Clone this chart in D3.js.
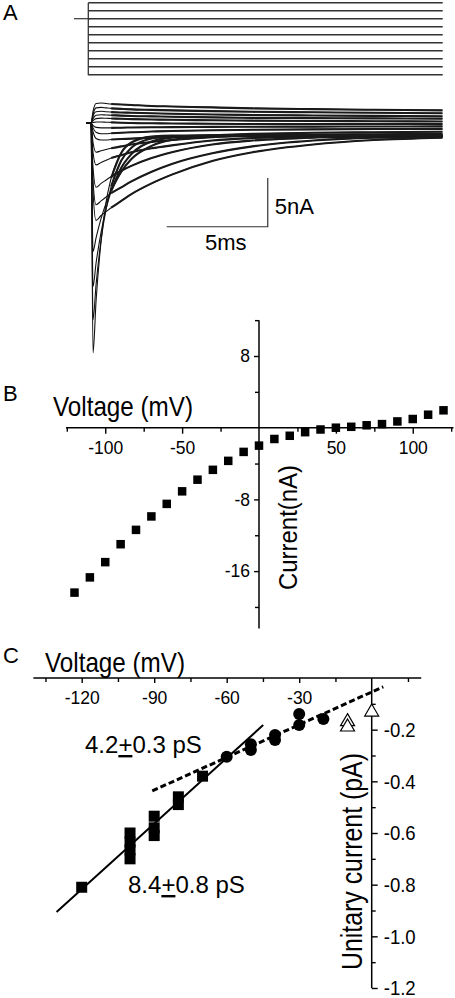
<!DOCTYPE html>
<html><head><meta charset="utf-8">
<script src="https://cdn.jsdelivr.net/npm/d3@7"></script>
<style>
html,body{margin:0;padding:0;background:#fff;}
svg{display:block;font-family:"Liberation Sans",Arial,Helvetica,sans-serif;}
</style></head><body>
<svg id="fig" width="455" height="998"></svg>
<script>
// ---------- Panel A: voltage protocol ----------
const stepVoltages = [60, 40, 20, 0, -20, -40, -60, -80, -100, -120];
const holdingVoltage = 20;

// ---------- Panel A: current traces (nA) sampled at traceTimes (ms) ----------
const traceTimes = [-0.25, 0, 0.1, 0.25, 0.5, 0.75, 1, 1.5, 2, 3, 4, 6, 8, 11, 14, 17.4];
const traceO1 = [0, 0, 1.2, 2.0, 2.05, 2.0, 1.95, 1.9, 1.85, 1.75, 1.7, 1.6, 1.5, 1.42, 1.36, 1.3];
const traceO2 = [0, 0, 0.9, 1.55, 1.6, 1.55, 1.5, 1.45, 1.4, 1.35, 1.3, 1.22, 1.15, 1.1, 1.05, 1.0];
const traceO3 = [0, 0, 0.7, 1.15, 1.2, 1.15, 1.12, 1.08, 1.05, 1.0, 0.95, 0.88, 0.82, 0.77, 0.73, 0.7];
const traceO4 = [0, 0, 0.45, 0.8, 0.85, 0.82, 0.8, 0.76, 0.72, 0.68, 0.64, 0.58, 0.53, 0.5, 0.47, 0.45];
const traceO5 = [0, 0, 0.25, 0.45, 0.5, 0.48, 0.46, 0.43, 0.4, 0.36, 0.33, 0.28, 0.24, 0.2, 0.18, 0.15];
const traceO6 = [0, 0, 0.05, 0.1, 0.1, 0.08, 0.06, 0.03, 0, -0.03, -0.05, -0.08, -0.1, -0.1, -0.1, -0.1];
const traceN1 = [0, 0, -0.25, -0.45, -0.5, -0.5, -0.5, -0.48, -0.46, -0.44, -0.42, -0.4, -0.38, -0.37, -0.36, -0.35];
const traceN2 = [0, 0, -0.5, -0.95, -1.1, -1.1, -1.05, -1.0, -0.95, -0.88, -0.82, -0.75, -0.7, -0.65, -0.62, -0.6];
const traceS1 = [0, 0, -0.9, -1.6, -1.75, -1.75, -1.7, -1.65, -1.6, -1.5, -1.4, -1.25, -1.12, -1.0, -0.95, -0.9];
const traceM1 = [0, 0, -2.0, -3.0, -2.85, -2.72, -2.6, -2.4, -2.2, -1.95, -1.75, -1.45, -1.3, -1.2, -1.15, -1.1];
const traceM2 = [0, 0, -3.0, -4.3, -4.05, -3.82, -3.6, -3.3, -3.0, -2.6, -2.3, -1.8, -1.55, -1.4, -1.35, -1.3];
const traceM3 = [0, 0, -4.6, -6.6, -6.2, -5.85, -5.5, -4.9, -4.4, -3.6, -3.0, -2.2, -1.8, -1.5, -1.4, -1.35];
const traceM4 = [0, 0, -5.9, -8.4, -8.0, -7.6, -7.2, -6.6, -6.0, -5.0, -4.2, -3.1, -2.4, -1.8, -1.5, -1.4];
const traceM5 = [0, 0, -7.0, -10.0, -9.5, -9.1, -8.7, -8.0, -7.3, -6.2, -5.3, -3.9, -3.0, -2.2, -1.75, -1.5];
const traceD4 = [0, 0, -13.2, -11.8, -9.8, -8.2, -6.9, -5.0, -3.7, -2.35, -1.75, -1.4, -1.32, -1.3, -1.3, -1.3];
const traceD3 = [0, 0, -16.8, -14.4, -11.2, -8.8, -7.0, -4.6, -3.2, -1.9, -1.5, -1.32, -1.3, -1.3, -1.28, -1.28];
const traceD2 = [0, 0, -20.2, -16.6, -12.0, -8.8, -6.5, -3.85, -2.55, -1.6, -1.38, -1.3, -1.3, -1.28, -1.26, -1.25];
const traceD1 = [0, 0, -23.6, -18.3, -12.1, -8.1, -5.65, -3.05, -2.0, -1.4, -1.3, -1.3, -1.28, -1.26, -1.25, -1.25];
const traces = [traceO1, traceO2, traceO3, traceO4, traceO5, traceO6, traceN1, traceN2, traceS1,
                traceM1, traceM2, traceM3, traceM4, traceM5, traceD4, traceD3, traceD2, traceD1];
const scaleBarTimeMs = 5;
const scaleBarCurrentNA = 5;

// ---------- Panel B: I-V relation ----------
const ivVoltage = [-120, -110, -100, -90, -80, -70, -60, -50, -40, -30, -20, -10, 0,
                   10, 20, 30, 40, 50, 60, 70, 80, 90, 100, 110, 120];
const ivCurrent = [-18.4, -16.7, -15.0, -13.0, -11.4, -9.9, -8.5, -7.1, -5.8, -4.7, -3.7, -2.7, -2.0,
                   -1.26, -0.9, -0.5, -0.2, 0.0, 0.1, 0.27, 0.4, 0.7, 0.97, 1.45, 1.94];
const ivXMajor = [-100, -50, 50, 100];
const ivXMinor = [-125, -75, -25, 25, 75, 125];
const ivYMajor = [8, -8, -16];
const ivYMinor = [12, 4, -4, -12, -20];

// ---------- Panel C: unitary currents ----------
const squareV = [-120, -100, -100, -100, -100, -90, -90, -90, -80, -80, -70];
const squareI = [-0.81, -0.60, -0.635, -0.665, -0.70, -0.535, -0.58, -0.61, -0.46, -0.49, -0.38];
const circleV = [-60, -50, -50, -40, -40, -30, -30, -20];
const circleI = [-0.305, -0.256, -0.279, -0.221, -0.24, -0.139, -0.182, -0.159];
const triangleV = [-10, -10, 0];
const triangleI = [-0.161, -0.182, -0.124];
const fitSolidV = [-130.4, -44.9];
const fitSolidI = [-0.906, -0.182];
const fitDashV = [-90.8, 4.8];
const fitDashI = [-0.437, -0.034];
const ucXMajor = [-120, -90, -60, -30];
const ucXMinor = [-135, -105, -75, -45, -15, 15];
const ucYMajor = [-0.2, -0.4, -0.6, -0.8, -1.0, -1.2];
const ucYMinor = [-0.1, -0.3, -0.5, -0.7, -0.9, -1.1];

// =========================================================
const svg = d3.select("#fig");
const FONT = "'Liberation Sans', Arial, Helvetica, sans-serif";

function styleAxis(g, fs) {
  g.attr("font-family", null).attr("font-size", null);
  g.select(".domain").remove();
  g.selectAll("line").attr("stroke", "#000").attr("stroke-width", 1.4);
  g.selectAll("text").attr("fill", "#000").style("font-size", fs + "px").style("font-family", FONT);
}

// panel letters
[["A", 20], ["B", 401], ["C", 663]].forEach(([t, y]) => {
  svg.append("text").attr("x", 3).attr("y", y).style("font-size", "22px").text(t);
});

// ---------- Panel A ----------
const yStep = d3.scaleLinear().domain([60, -120]).range([2.7, 74.7]);
const gA = svg.append("g");
gA.selectAll("line.step").data(stepVoltages).join("line")
  .attr("x1", 88.3).attr("x2", 442.7)
  .attr("y1", d => yStep(d)).attr("y2", d => yStep(d))
  .attr("stroke", "#333").attr("stroke-width", 1.6);
gA.append("line").attr("x1", 88.3).attr("x2", 88.3)
  .attr("y1", yStep(60)).attr("y2", yStep(-120) + 0.6)
  .attr("stroke", "#333").attr("stroke-width", 1.3);
gA.append("line").attr("x1", 74).attr("x2", 90.5)
  .attr("y1", yStep(holdingVoltage)).attr("y2", yStep(holdingVoltage))
  .attr("stroke", "#333").attr("stroke-width", 1.2);

const xA = d3.scaleLinear().domain([0, 5]).range([91, 192]);
const yA = d3.scaleLinear().domain([0, -5]).range([123, 171.7]);
const traceLine = d3.line()
  .x(d => xA(d[0]))
  .y(d => yA(d[1]))
  .curve(d3.curveMonotoneX);
const tracePts = traces.map(tr => tr.map((v, i) => [traceTimes[i], v]));
gA.selectAll("path.trace").data(tracePts).join("path")
  .attr("d", traceLine)
  .attr("fill", "none").attr("stroke", "#111").attr("stroke-width", 1.1)
  .attr("stroke-linejoin", "round");
// noisy (thick) appearance of slow portions of the records
gA.selectAll("path.traceTail").data(tracePts.map(p => p.slice(6))).join("path")
  .attr("d", traceLine)
  .attr("fill", "none").attr("stroke", "#1a1a1a").attr("stroke-width", 2.1)
  .attr("stroke-linejoin", "round");

// scale bar
const sbT = 8.75, sbI = -10.65;
gA.append("path")
  .attr("d", `M${xA(sbT - scaleBarTimeMs)},${yA(sbI)}H${xA(sbT)}V${yA(sbI + scaleBarCurrentNA)}`)
  .attr("fill", "none").attr("stroke", "#333").attr("stroke-width", 1.2);
gA.append("text").attr("x", xA(sbT) + 7).attr("y", 214).style("font-size", "22px").text("5nA");
gA.append("text").attr("x", 205).attr("y", 250).style("font-size", "22px").text("5ms");

// ---------- Panel B ----------
const xB = d3.scaleLinear().domain([-120, 120]).range([74.5, 443.5]);
const yB = d3.scaleLinear().domain([0, 8]).range([427.7, 356]);
const gB = svg.append("g");
gB.append("line").attr("x1", xB(-125.5)).attr("x2", xB(126.5)).attr("y1", yB(0)).attr("y2", yB(0))
  .attr("stroke", "#000").attr("stroke-width", 1.5);
gB.append("line").attr("x1", xB(0)).attr("x2", xB(0)).attr("y1", yB(12)).attr("y2", yB(-22.4))
  .attr("stroke", "#000").attr("stroke-width", 1.5);
gB.append("g").attr("transform", `translate(0,${yB(0)})`)
  .call(d3.axisBottom(xB).tickValues(ivXMajor).tickSize(6).tickPadding(8).tickFormat(d => String(d)))
  .call(g => styleAxis(g, 17.5));
gB.append("g").attr("transform", `translate(0,${yB(0)})`)
  .call(d3.axisBottom(xB).tickValues(ivXMinor).tickSize(4).tickFormat(""))
  .call(g => styleAxis(g, 17));
gB.append("g").attr("transform", `translate(${xB(0)},0)`)
  .call(d3.axisLeft(yB).tickValues(ivYMajor).tickSize(5).tickPadding(4).tickFormat(d => String(d)))
  .call(g => styleAxis(g, 17.5));
gB.append("g").attr("transform", `translate(${xB(0)},0)`)
  .call(d3.axisLeft(yB).tickValues(ivYMinor).tickSize(4).tickFormat(""))
  .call(g => styleAxis(g, 17));
const sqB = 8.5;
gB.selectAll("rect.iv").data(ivVoltage).join("rect")
  .attr("x", d => xB(d) - sqB / 2)
  .attr("y", (d, i) => yB(ivCurrent[i]) - sqB / 2)
  .attr("width", sqB).attr("height", sqB).attr("fill", "#000");
gB.append("text").attr("x", 53).attr("y", 416).style("font-size", "28px")
  .attr("textLength", 140).attr("lengthAdjust", "spacingAndGlyphs").text("Voltage (mV)");
gB.append("text").attr("transform", "translate(297,590) rotate(-90)").style("font-size", "26px")
  .attr("textLength", 125).attr("lengthAdjust", "spacingAndGlyphs").text("Current(nA)");

// ---------- Panel C ----------
const xC = d3.scaleLinear().domain([-120, 0]).range([81.7, 371.7]);
const yC = d3.scaleLinear().domain([0, -1.2]).range([678, 988]);
const gC = svg.append("g");
gC.append("line").attr("x1", xC(-140)).attr("x2", xC(20.5)).attr("y1", yC(0)).attr("y2", yC(0))
  .attr("stroke", "#000").attr("stroke-width", 1.5);
gC.append("line").attr("x1", xC(0)).attr("x2", xC(0)).attr("y1", yC(0)).attr("y2", yC(-1.2))
  .attr("stroke", "#000").attr("stroke-width", 1.5);
gC.append("g").attr("transform", `translate(0,${yC(0)})`)
  .call(d3.axisBottom(xC).tickValues(ucXMajor).tickSize(5).tickPadding(8.5).tickFormat(d => String(d)))
  .call(g => styleAxis(g, 17.5));
gC.append("g").attr("transform", `translate(0,${yC(0)})`)
  .call(d3.axisBottom(xC).tickValues(ucXMinor).tickSize(4).tickFormat(""))
  .call(g => styleAxis(g, 17));
gC.append("g").attr("transform", `translate(${xC(0)},0)`)
  .call(d3.axisRight(yC).tickValues(ucYMajor).tickSize(6).tickPadding(6).tickFormat(d => d.toFixed(1)))
  .call(g => styleAxis(g, 21))
  .call(g => g.selectAll("text").attr("textLength", 32).attr("lengthAdjust", "spacingAndGlyphs"));
gC.append("g").attr("transform", `translate(${xC(0)},0)`)
  .call(d3.axisRight(yC).tickValues(ucYMinor).tickSize(4).tickFormat(""))
  .call(g => styleAxis(g, 17));

// fits
const fitLine = d3.line().x(d => xC(d[0])).y(d => yC(d[1]));
gC.append("path").attr("d", fitLine(fitSolidV.map((v, i) => [v, fitSolidI[i]])))
  .attr("stroke", "#000").attr("stroke-width", 2).attr("fill", "none");
gC.append("path").attr("d", fitLine(fitDashV.map((v, i) => [v, fitDashI[i]])))
  .attr("stroke", "#000").attr("stroke-width", 3).attr("stroke-dasharray", "6,3").attr("fill", "none");

// markers
const sqC = 11;
gC.selectAll("rect.sq").data(squareV).join("rect")
  .attr("x", d => xC(d) - sqC / 2)
  .attr("y", (d, i) => yC(squareI[i]) - sqC / 2)
  .attr("width", sqC).attr("height", sqC).attr("fill", "#000");
gC.selectAll("circle.ci").data(circleV).join("circle")
  .attr("cx", d => xC(d)).attr("cy", (d, i) => yC(circleI[i])).attr("r", 6).attr("fill", "#000");
gC.selectAll("path.tri").data(triangleV).join("path")
  .attr("d", (d, i) => {
    const cx = xC(d), cy = yC(triangleI[i]);
    return `M${cx},${cy - 6}L${cx + 7},${cy + 6}L${cx - 7},${cy + 6}Z`;
  })
  .attr("fill", "#fff").attr("stroke", "#000").attr("stroke-width", 1.2);

gC.append("text").attr("x", 45).attr("y", 672).style("font-size", "28px")
  .attr("textLength", 140).attr("lengthAdjust", "spacingAndGlyphs").text("Voltage (mV)");
gC.append("text").attr("transform", "translate(362,970) rotate(-90)").style("font-size", "30px")
  .attr("textLength", 217).attr("lengthAdjust", "spacingAndGlyphs").text("Unitary current (pA)");

function pmLabel(x, y, a, b) {
  const t = gC.append("text").attr("x", x).attr("y", y).style("font-size", "24px");
  t.append("tspan").text(a);
  t.append("tspan").style("text-decoration", "underline").text("+");
  t.append("tspan").text(b);
}
pmLabel(85, 753, "4.2", "0.3 pS");
pmLabel(128, 893, "8.4", "0.8 pS");
</script>
</body></html>
